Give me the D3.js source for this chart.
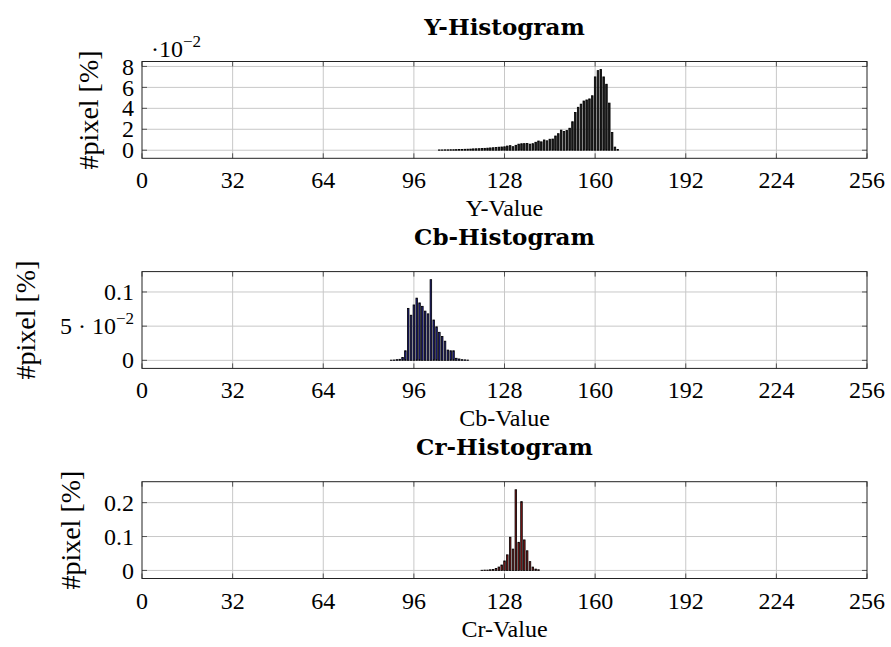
<!DOCTYPE html>
<html>
<head>
<meta charset="utf-8">
<script src="https://cdn.jsdelivr.net/npm/d3@7"></script>
<style>
  html, body { margin: 0; padding: 0; background: #fff; }
  svg { display: block; }
  .tick-label { font-family: "Liberation Serif", "Times New Roman", serif; font-size: 24px; fill: #000; }
  .axis-label { font-family: "Liberation Serif", "Times New Roman", serif; font-size: 24px; fill: #000; }
  .y-label { font-family: "Liberation Serif", "Times New Roman", serif; font-size: 28px; fill: #000; }
  .title { font-family: "DejaVu Serif", serif; font-size: 23px; font-weight: bold; fill: #000; }
</style>
</head>
<body>
<svg id="chart" width="891" height="647"></svg>
<script>
// Luma histogram (percent of pixels per value)
const yStart = 105;
const yValues = [
  0.0003, 0.0003, 0.0004, 0.0004, 0.0005, 0.0005, 0.0006, 0.0007, 0.0008, 0.0009,
  0.0010, 0.0011, 0.0013, 0.0014, 0.0015, 0.0017, 0.0018, 0.0020, 0.0022, 0.0024,
  0.0027, 0.0029, 0.0031, 0.0033, 0.0040, 0.0044, 0.0034, 0.0047, 0.0058, 0.0062,
  0.0063, 0.0064, 0.0058, 0.0063, 0.0076, 0.0088, 0.0080, 0.0098, 0.0090, 0.0105,
  0.0107, 0.0136, 0.0158, 0.0192, 0.0178, 0.0188, 0.0210, 0.0272, 0.0360, 0.0410,
  0.0440, 0.0470, 0.0480, 0.0490, 0.0520, 0.0700, 0.0760, 0.0770, 0.0700, 0.0630,
  0.0450, 0.0170, 0.0030, 0.0007
];

// Blue-difference chroma histogram
const cbStart = 88;
const cbValues = [
  0.0003, 0.0005, 0.0010, 0.0015, 0.0040, 0.0140, 0.0760, 0.0660, 0.0810, 0.0910,
  0.0840, 0.0790, 0.0720, 0.0680, 0.1180, 0.0590, 0.0490, 0.0410, 0.0350, 0.0280,
  0.0150, 0.0140, 0.0140, 0.0030, 0.0020, 0.0010, 0.0007, 0.0004
];

// Red-difference chroma histogram
const crStart = 120;
const crValues = [
  0.0005, 0.0010, 0.0010, 0.0020, 0.0030, 0.0060, 0.0100, 0.0160, 0.0280, 0.0460,
  0.0980, 0.0630, 0.2380, 0.0830, 0.2030, 0.0900, 0.0580, 0.0260, 0.0100, 0.0040,
  0.0020
];

const xTicks = [0, 32, 64, 96, 128, 160, 192, 224, 256];

const yTicksY = [0, 0.02, 0.04, 0.06, 0.08];
const yTickLabelsY = ["0", "2", "4", "6", "8"];
const yTicksCb = [0, 0.05, 0.1];
const yTickLabelsCb = ["0", "5 · 10^−2", "0.1"];
const yTicksCr = [0, 0.1, 0.2];
const yTickLabelsCr = ["0", "0.1", "0.2"];

const panels = [
  { title: "Y-Histogram", xLabel: "Y-Value", start: yStart, values: yValues,
    ticks: yTicksY, tickLabels: yTickLabelsY, scaleLabel: true, fill: "#1e1e1e" },
  { title: "Cb-Histogram", xLabel: "Cb-Value", start: cbStart, values: cbValues,
    ticks: yTicksCb, tickLabels: yTickLabelsCb, scaleLabel: false, fill: "#1f1f8a" },
  { title: "Cr-Histogram", xLabel: "Cr-Value", start: crStart, values: crValues,
    ticks: yTicksCr, tickLabels: yTickLabelsCr, scaleLabel: false, fill: "#8a1818" }
];

const svg = d3.select("#chart");
const left = 142, right = 867;
const plotH = 96.8;
const plotTops = [61.5, 271.6, 481.7];
const barWidth = 0.55;

const x = d3.scaleLinear().domain([0, 256]).range([left, right]);

// Write "a·10^b" style labels with a raised exponent
function writeLabel(sel, label) {
  const m = label.match(/^(.*?)\^(.*)$/);
  if (!m) { sel.text(label); return; }
  sel.append("tspan").text(m[1]);
  sel.append("tspan").attr("dy", -10).style("font-size", "17px").text(m[2]);
}

panels.forEach((p, i) => {
  const top = plotTops[i];
  const bottom = top + plotH;
  const vmax = d3.max(p.values);
  const y = d3.scaleLinear().domain([-0.1 * vmax, 1.1 * vmax]).range([bottom, top]);
  const g = svg.append("g");

  // grid
  g.append("g").selectAll("line").data(xTicks.slice(1, -1)).join("line")
    .attr("x1", d => x(d)).attr("x2", d => x(d))
    .attr("y1", top).attr("y2", bottom)
    .attr("stroke", "#c8c8c8").attr("stroke-width", 1);
  g.append("g").selectAll("line").data(p.ticks).join("line")
    .attr("x1", left).attr("x2", right)
    .attr("y1", d => y(d)).attr("y2", d => y(d))
    .attr("stroke", "#c8c8c8").attr("stroke-width", 1);

  // inner tick marks on all four sides
  const tl = 5;
  const tk = g.append("g").attr("stroke", "#555").attr("stroke-width", 1);
  xTicks.forEach(t => {
    tk.append("line").attr("x1", x(t)).attr("x2", x(t)).attr("y1", bottom).attr("y2", bottom - tl);
    tk.append("line").attr("x1", x(t)).attr("x2", x(t)).attr("y1", top).attr("y2", top + tl);
  });
  p.ticks.forEach(t => {
    tk.append("line").attr("x1", left).attr("x2", left + tl).attr("y1", y(t)).attr("y2", y(t));
    tk.append("line").attr("x1", right).attr("x2", right - tl).attr("y1", y(t)).attr("y2", y(t));
  });

  // bars
  g.append("g").selectAll("rect").data(p.values).join("rect")
    .attr("x", (d, k) => x(p.start + k - barWidth / 2))
    .attr("width", x(barWidth) - x(0))
    .attr("y", d => y(d))
    .attr("height", d => y(0) - y(d))
    .attr("fill", p.fill)
    .attr("stroke", "#000")
    .attr("stroke-width", 0.8);

  // frame
  g.append("rect").attr("x", left).attr("y", top)
    .attr("width", right - left).attr("height", bottom - top)
    .attr("fill", "none").attr("stroke", "#222").attr("stroke-width", 1);

  // x tick labels
  g.append("g").selectAll("text").data(xTicks).join("text")
    .attr("class", "tick-label")
    .attr("x", d => x(d)).attr("y", bottom + 30)
    .attr("text-anchor", "middle")
    .text(d => d);

  // y tick labels
  const yl = g.append("g");
  p.ticks.forEach((t, k) => {
    const tx = yl.append("text").attr("class", "tick-label")
      .attr("x", left - 8).attr("y", y(t)).attr("dy", "0.34em")
      .attr("text-anchor", "end");
    writeLabel(tx, p.tickLabels[k]);
  });
  const bb = yl.node().getBBox();

  // y axis label
  g.append("text").attr("class", "y-label")
    .attr("transform", `translate(${bb.x - 34},${(top + bottom) / 2}) rotate(-90)`)
    .attr("text-anchor", "middle").attr("dominant-baseline", "central")
    .text("#pixel [%]");

  // common scale factor above the y axis
  if (p.scaleLabel) {
    const s = g.append("text").attr("class", "tick-label").attr("x", 151).attr("y", top - 5);
    writeLabel(s, "·10^−2");
  }

  // x axis label and title
  g.append("text").attr("class", "axis-label")
    .attr("x", (left + right) / 2).attr("y", bottom + 58)
    .attr("text-anchor", "middle").text(p.xLabel);
  g.append("text").attr("class", "title")
    .attr("x", (left + right) / 2).attr("y", top - 27)
    .attr("text-anchor", "middle").text(p.title);
});
</script>
</body>
</html>
